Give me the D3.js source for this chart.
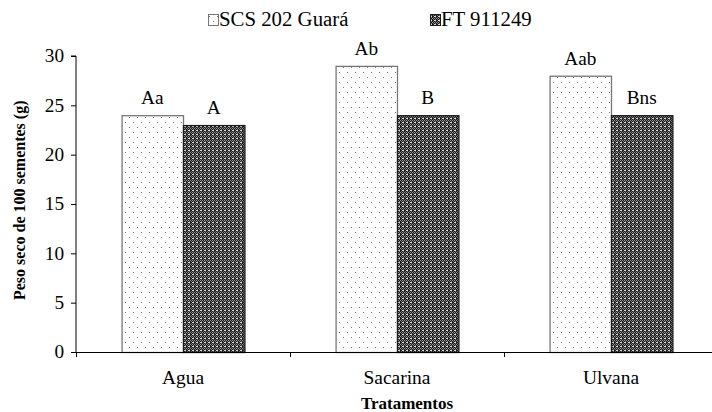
<!DOCTYPE html>
<html>
<head>
<meta charset="utf-8">
<script src="https://cdn.jsdelivr.net/npm/d3@7"></script>
<style>
  body { margin: 0; background: #fff; }
  text { font-family: "Liberation Serif", "Times New Roman", serif; fill: #000; }
</style>
</head>
<body>
<div id="chart"></div>
<script>
var categories = ["Agua", "Sacarina", "Ulvana"];
var seriesNames = ["SCS 202 Guará", "FT 911249"];
var guara = [24, 29, 28];
var ft = [23, 24, 24];
var guaraLabels = ["Aa", "Ab", "Aab"];
var ftLabels = ["A", "B", "Bns"];
var yTicks = [0, 5, 10, 15, 20, 25, 30];

var width = 712, height = 412;
// plot runs off the right edge like the original
var margin = { left: 76, top: 56 };
var plotRight = 718;
var zeroY = 352;
var serif = "'Liberation Serif', 'Times New Roman', serif";

// the original text looks a bit wider than plain Times
function stretch(sel, k) {
  sel.each(function() {
    var w = this.getComputedTextLength();
    d3.select(this).attr("textLength", w * k).attr("lengthAdjust", "spacingAndGlyphs");
  });
}

var svg = d3.select("#chart").append("svg")
  .attr("width", width).attr("height", height);

var defs = svg.append("defs");

// sparse dots for the light series
var dots = defs.append("pattern")
  .attr("id", "dots").attr("patternUnits", "userSpaceOnUse")
  .attr("width", 8).attr("height", 10);
dots.append("rect").attr("width", 8).attr("height", 10).attr("fill", "#fff");
dots.append("rect").attr("x", 1).attr("y", 2).attr("width", 1).attr("height", 1).attr("fill", "#777");
dots.append("rect").attr("x", 5).attr("y", 7).attr("width", 1).attr("height", 1).attr("fill", "#777");

// dense dark checker for the dark series
var checker = defs.append("pattern")
  .attr("id", "checker").attr("patternUnits", "userSpaceOnUse")
  .attr("width", 4).attr("height", 4);
checker.append("rect").attr("width", 4).attr("height", 4).attr("fill", "#1a1a1a");
checker.append("rect").attr("x", 0).attr("y", 0).attr("width", 1).attr("height", 1).attr("fill", "#999");
checker.append("rect").attr("x", 2).attr("y", 0).attr("width", 1).attr("height", 1).attr("fill", "#999");
checker.append("rect").attr("x", 1).attr("y", 1).attr("width", 1).attr("height", 1).attr("fill", "#777");
checker.append("rect").attr("x", 3).attr("y", 1).attr("width", 1).attr("height", 1).attr("fill", "#777");
checker.append("rect").attr("x", 0).attr("y", 2).attr("width", 2).attr("height", 1).attr("fill", "#ddd");
checker.append("rect").attr("x", 1).attr("y", 3).attr("width", 1).attr("height", 1).attr("fill", "#666");
checker.append("rect").attr("x", 3).attr("y", 3).attr("width", 1).attr("height", 1).attr("fill", "#666");

var x = d3.scaleBand().domain(categories).range([margin.left, plotRight]).paddingInner(0).paddingOuter(0);
var inner = d3.scaleBand().domain([0, 1]).range([0, x.bandwidth()]).paddingOuter(0.7425).paddingInner(0);
var y = d3.scaleLinear().domain([0, 30]).range([zeroY, margin.top]);

var data = categories.map(function(c, i) {
  return { cat: c, vals: [guara[i], ft[i]], labs: [guaraLabels[i], ftLabels[i]] };
});

var fills = ["url(#dots)", "url(#checker)"];
var strokes = ["#777", "#1a1a1a"];

var groups = svg.selectAll("g.cat").data(data).enter().append("g")
  .attr("class", "cat")
  .attr("transform", function(d) { return "translate(" + x(d.cat) + ",0)"; });

groups.selectAll("rect").data(function(d) {
  return d.vals.map(function(v, j) { return { v: v, j: j }; });
}).enter().append("rect")
  .attr("x", function(d) { return inner(d.j) + 0.5; })
  .attr("y", function(d) { return y(d.v) + 0.5; })
  .attr("width", inner.bandwidth())
  .attr("height", function(d) { return zeroY - y(d.v); })
  .attr("fill", function(d) { return fills[d.j]; })
  .attr("stroke", function(d) { return strokes[d.j]; })
  .attr("stroke-width", 1.3);

var barLabels = groups.selectAll("text.lab").data(function(d) {
  return d.vals.map(function(v, j) { return { v: v, j: j, t: d.labs[j] }; });
}).enter().append("text")
  .attr("class", "lab")
  .attr("x", function(d) { return inner(d.j) + inner.bandwidth() / 2; })
  .attr("y", function(d) { return y(d.v) - 11; })
  .attr("text-anchor", "middle")
  .style("font-size", "18px")
  .text(function(d) { return d.t; });
stretch(barLabels, 1.07);

// y axis
var yAxis = d3.axisLeft(y).tickValues(yTicks).tickSize(5).tickPadding(7);
var gy = svg.append("g").attr("transform", "translate(" + margin.left + ",0)").call(yAxis);
gy.select(".domain").attr("d", "M-5," + y(30) + "H0V" + zeroY);
gy.selectAll("text").style("font-size", "18px").style("font-family", serif);
gy.selectAll("line, path").attr("stroke", "#000");
stretch(gy.selectAll("text"), 1.07);

// x axis: ticks at band boundaries
svg.append("line").attr("x1", margin.left - 5).attr("x2", plotRight)
  .attr("y1", zeroY + 0.5).attr("y2", zeroY + 0.5).attr("stroke", "#000");
svg.selectAll("line.xt").data(categories).enter().append("line")
  .attr("class", "xt")
  .attr("x1", function(d) { return x(d) + 0.5; })
  .attr("x2", function(d) { return x(d) + 0.5; })
  .attr("y1", zeroY).attr("y2", zeroY + 5).attr("stroke", "#000");
var xLabels = svg.selectAll("text.xl").data(categories).enter().append("text")
  .attr("class", "xl")
  .attr("x", function(d) { return x(d) + x.bandwidth() / 2; })
  .attr("y", 384)
  .attr("text-anchor", "middle")
  .style("font-size", "18px")
  .text(function(d) { return d; });
stretch(xLabels, 1.08);

// axis titles
svg.append("text")
  .attr("x", 407).attr("y", 409)
  .attr("text-anchor", "middle")
  .style("font-size", "17px").style("font-weight", "bold")
  .text("Tratamentos");
svg.append("text")
  .attr("transform", "translate(25,300) rotate(-90)")
  .attr("text-anchor", "start")
  .style("font-size", "16px").style("font-weight", "bold")
  .text("Peso seco de 100 sementes (g)");

// legend
var legendX = [208, 430];
var leg = svg.selectAll("g.leg").data(seriesNames).enter().append("g")
  .attr("class", "leg")
  .attr("transform", function(d, i) { return "translate(" + legendX[i] + ",14)"; });
leg.append("rect").attr("x", 0.5).attr("y", 0.5).attr("width", 10).attr("height", 11)
  .attr("fill", function(d, i) { return fills[i]; })
  .attr("stroke", function(d, i) { return strokes[i]; });
var legText = leg.append("text").attr("x", 11).attr("y", 12)
  .style("font-size", "20px")
  .text(function(d) { return d; });
stretch(legText, 1.04);
</script>
</body>
</html>
